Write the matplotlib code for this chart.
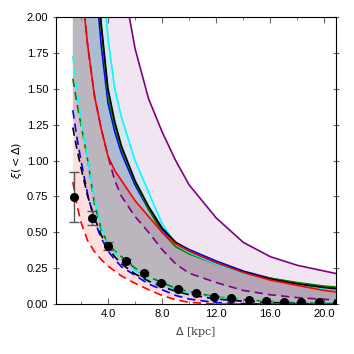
import numpy as np
import matplotlib
matplotlib.use("Agg")
import matplotlib.pyplot as plt
from matplotlib.ticker import MultipleLocator, FormatStrFormatter

plt.rcParams['font.family'] = ['Liberation Sans', 'DejaVu Sans']

# common grid of separations [kpc]
xg = [1.4, 1.7, 2.0, 2.5, 3.0, 3.5, 4.0, 4.5, 5.0, 6.0, 7.0, 8.0, 9.0, 10.0,
      12.0, 14.0, 16.0, 18.0, 20.0, 21.0]

# upper (solid) and lower (dashed) curves per model
red_hi = [3.5, 2.8, 2.25, 1.8, 1.45, 1.22, 1.03, 0.93, 0.86, 0.72, 0.61, 0.5,
          0.42, 0.37, 0.29, 0.22, 0.167, 0.13, 0.095, 0.083]
red_lo = [0.85, 0.69, 0.57, 0.44, 0.365, 0.31, 0.265, 0.23, 0.195, 0.145, 0.1,
          0.06, 0.03, 0.012, 0.0, 0.0, 0.0, 0.0, 0.0, 0.0]
blue_hi = [6.0, 5.0, 4.2, 3.0, 2.35, 1.8, 1.4, 1.2, 1.05, 0.83, 0.66, 0.52,
           0.43, 0.38, 0.3, 0.23, 0.18, 0.145, 0.12, 0.11]
blue_lo = [1.35, 1.16, 1.0, 0.76, 0.58, 0.46, 0.37, 0.31, 0.26, 0.2, 0.14,
           0.1, 0.06, 0.035, 0.01, 0.003, 0.0, 0.0, 0.0, 0.0]
green_hi = [6.2, 5.2, 4.4, 3.1, 2.45, 1.92, 1.45, 1.24, 1.08, 0.85, 0.66, 0.5,
            0.4, 0.35, 0.28, 0.22, 0.18, 0.15, 0.125, 0.118]
green_lo = [1.57, 1.4, 1.25, 1.0, 0.7, 0.52, 0.42, 0.37, 0.33, 0.25, 0.19,
            0.15, 0.11, 0.085, 0.05, 0.03, 0.018, 0.01, 0.005, 0.003]
cyan_hi = [7.0, 6.0, 5.0, 3.8, 3.0, 2.4, 1.85, 1.5, 1.3, 1.0, 0.78, 0.56,
           0.42, 0.36, 0.28, 0.215, 0.17, 0.135, 0.105, 0.1]
cyan_lo = [1.73, 1.5, 1.28, 1.0, 0.73, 0.54, 0.42, 0.36, 0.31, 0.235, 0.175,
           0.13, 0.1, 0.075, 0.045, 0.028, 0.016, 0.01, 0.005, 0.003]
black_hi = [6.3, 5.3, 4.5, 3.2, 2.5, 1.95, 1.5, 1.27, 1.1, 0.86, 0.68, 0.53,
            0.43, 0.37, 0.29, 0.225, 0.175, 0.14, 0.115, 0.105]
black_lo = [1.23, 1.08, 0.95, 0.75, 0.6, 0.48, 0.39, 0.33, 0.28, 0.21, 0.16,
            0.12, 0.09, 0.065, 0.035, 0.02, 0.01, 0.005, 0.0, 0.0]
purple_hi = [9.0, 8.0, 7.0, 5.5, 4.5, 3.6, 3.0, 2.6, 2.3, 1.78, 1.43, 1.2,
             1.0, 0.83, 0.6, 0.43, 0.33, 0.27, 0.23, 0.21]
purple_lo = [3.5, 2.8, 2.25, 1.8, 1.45, 1.22, 1.03, 0.86, 0.75, 0.61, 0.5,
             0.38, 0.28, 0.215, 0.15, 0.095, 0.065, 0.045, 0.033, 0.027]

# measured points
obs_x = [1.5, 2.8, 4.0, 5.3, 6.65, 7.9, 9.2, 10.5, 11.8, 13.1, 14.4, 15.7,
         17.0, 18.3, 19.6, 20.9]
obs_y = [0.746, 0.60, 0.405, 0.30, 0.216, 0.146, 0.105, 0.077, 0.052, 0.04,
         0.028, 0.02, 0.018, 0.015, 0.012, 0.01]
obs_err = [0.177, 0.05, 0.025, 0.015, 0.01, 0.008, 0.006, 0.005, 0.004,
           0.003, 0.003, 0.002, 0.002, 0.002, 0.002, 0.002]

# fill order matters for the blended colours
fills = [
    (blue_lo, blue_hi, 'blue', 0.085),
    (green_lo, green_hi, 'green', 0.07),
    (cyan_lo, cyan_hi, 'cyan', 0.1),
    (black_lo, black_hi, 'black', 0.08),
    (purple_lo, purple_hi, 'purple', 0.1),
    (red_lo, red_hi, 'red', 0.13),
]

fig = plt.figure(figsize=(3.54, 3.54), dpi=100)
ax = fig.add_axes([0.158, 0.141, 0.791, 0.811])

for lo, hi, c, a in fills:
    ax.fill_between(xg, lo, hi, color=c, alpha=a, lw=0)

# purple dashed sits underneath the other lines
ax.plot(xg, purple_lo, color='purple', lw=1.2, ls=(0, (5, 3)), zorder=1.9)
ax.plot(xg, purple_hi, color='purple', lw=1.2)
for lo, hi, c, a in fills[:4] + fills[5:]:
    ax.plot(xg, hi, color=c, lw=1.2)
    ax.plot(xg, lo, color=c, lw=1.2, ls=(0, (5, 3)))

ax.errorbar(obs_x, obs_y, yerr=obs_err, fmt='o', color='black', ms=5.5,
            ecolor='#555555', elinewidth=1, capsize=3.5, zorder=5)

ax.set_xlim(0.15, 20.85)
ax.set_ylim(0, 2.0)
ax.xaxis.set_major_locator(MultipleLocator(4))
ax.xaxis.set_minor_locator(MultipleLocator(2))
ax.xaxis.set_major_formatter(FormatStrFormatter('%.1f'))
ax.yaxis.set_major_locator(MultipleLocator(0.25))
ax.yaxis.set_major_formatter(FormatStrFormatter('%.2f'))
ax.tick_params(which='both', direction='in', top=True, right=True,
               labelsize=8, color='#666666')
ax.tick_params(axis='y', which='both', direction='inout')
ax.tick_params(which='major', length=4)
ax.tick_params(which='minor', length=2.5)

ax.set_xlabel(r'$\Delta$ [kpc]', fontsize=8, family='serif', color='#444444',
              labelpad=4)
ax.set_ylabel(r'$\xi(<\Delta)$', fontsize=8, labelpad=2)

fig.savefig('out.png', dpi=100)
